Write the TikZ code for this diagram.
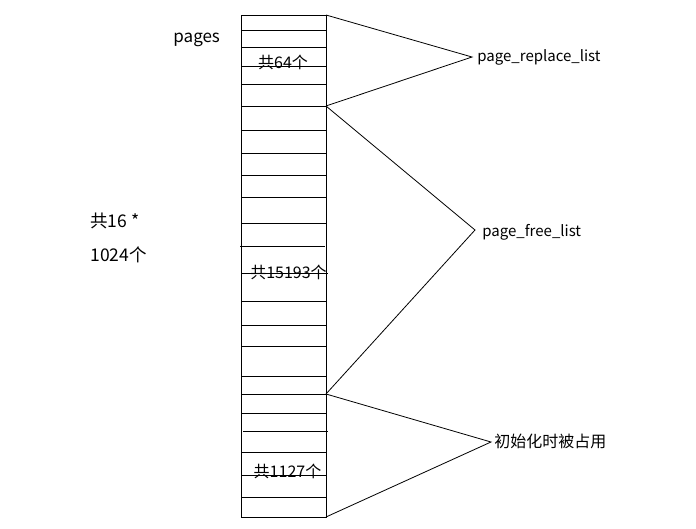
\documentclass[tikz,border=0pt]{standalone}
\usepackage{fontspec}
\setmainfont{Noto Sans CJK SC}
\tikzset{
	lbl/.style={inner sep=0pt, font=\fontsize{16}{18}\selectfont},
	sidelbl/.style={inner sep=0pt, anchor=west, font=\fontsize{15}{17}\selectfont},
	bigLbl/.style={inner sep=0pt, anchor=west, font=\fontsize{17.5}{20}\selectfont},
}

\begin{document}
\begin{tikzpicture}[x=1pt, y=-1pt, line width=0.8pt]
			%%%%% START %%%%%
			\useasboundingbox (0, 0) rectangle (696, 529);
			
			% page column
			\draw (241.5, 15) rectangle (326, 517);
			\draw (241.5, 30) -- (326, 30);
			\draw (241.5, 47) -- (326, 47);
			\draw (241.5, 66) -- (326, 66);
			\draw (241.5, 84) -- (326, 84);
			\draw (241.5, 106) -- (326, 106);
			\draw (241.5, 130) -- (326, 130);
			\draw (241.5, 153) -- (326, 153);
			\draw (241.5, 175) -- (326, 175);
			\draw (241.5, 197) -- (326, 197);
			\draw (241.5, 223) -- (326, 223);
			\draw (240, 246) -- (325, 246);
			\draw (241.5, 273) -- (328, 273);
			\draw (241.5, 301) -- (326, 301);
			\draw (241.5, 325) -- (326, 325);
			\draw (241.5, 346) -- (326, 346);
			\draw (241.5, 376) -- (326, 376);
			\draw (241.5, 394) -- (326, 394);
			\draw (241.5, 413) -- (326, 413);
			\draw (243, 431) -- (328, 431);
			\draw (241.5, 452) -- (326, 452);
			\draw (241.5, 475) -- (326, 475);
			\draw (241.5, 497) -- (326, 497);
			
			\coordinate (replaceTop) at (326, 15);
			\coordinate (replaceBot) at (326, 106);
			\coordinate (freeBot) at (326, 394);
			\coordinate (usedBot) at (326, 517);
			
			% counts inside the column
			\node[lbl] (cnt64) at (283, 62) {共64个};
			\node[lbl] (cnt15193) at (288.5, 272) {共15193个};
			\node[lbl] (cnt1127) at (287.5, 471) {共1127个};
			
			% left texts
			\node[sidelbl, font=\fontsize{17}{19}\selectfont] (pages) at (173, 40) {pages};
			\node[bigLbl] (total1) at (90, 221) {共16 *};
			\node[bigLbl] (total2) at (90, 255) {1024个};
			
			% list labels
			\coordinate (replaceTip) at (472, 57);
			\node[sidelbl] (replaceList) at (477, 57) {page\_replace\_list};
			\coordinate (freeTip) at (475, 230);
			\node[sidelbl] (freeList) at (482, 232) {page\_free\_list};
			\coordinate (usedTip) at (491, 442);
			\node[lbl, anchor=west] (usedList) at (494, 441) {初始化时被占用};
			
			\draw (replaceTop) -- (replaceTip) -- (replaceBot);
			\draw (replaceBot) -- (freeTip) -- (freeBot);
			\draw (freeBot) -- (usedTip) -- (usedBot);
			
			%%%%% END %%%%%
		\end{tikzpicture}
\end{document}
